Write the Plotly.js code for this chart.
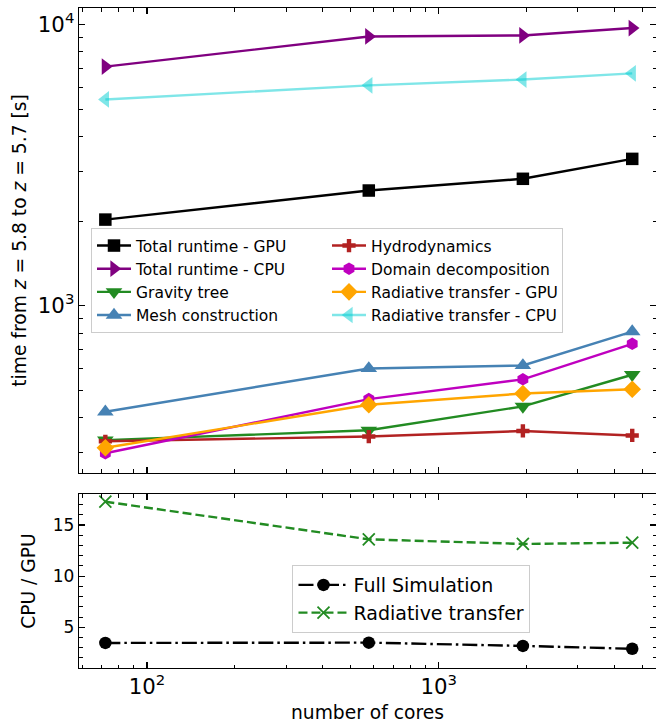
<!DOCTYPE html>
<html><head><meta charset="utf-8">
<script src="https://cdn.plot.ly/plotly-3.0.1.min.js"></script>
<style>html,body{margin:0;padding:0;background:#fff;} #chart{width:656px;height:723px;}</style>
</head><body><div id="chart"></div>
<script>
// ---- data ----
const cores = [72, 576, 1944, 4608];
const totalGPU = [2027, 2572, 2831, 3333];
const totalCPU = [7096, 9083, 9158, 9729];
const gravityTree = [333, 361, 439, 569];
const meshConstruction = [420, 599, 614, 810];
const hydrodynamics = [330, 343, 359, 346];
const domainDecomposition = [299, 466, 548, 733];
const radGPU = [313, 445, 488, 505];
const radCPU = [5420, 6085, 6383, 6713];
const ratioFull = [3.47, 3.5, 3.18, 2.9];
const ratioRT = [17.28, 13.6, 13.15, 13.27];

const names = ['Total runtime - GPU','Total runtime - CPU','Gravity tree','Mesh construction',
  'Hydrodynamics','Domain decomposition','Radiative transfer - GPU','Radiative transfer - CPU'];
const series = [totalGPU, totalCPU, gravityTree, meshConstruction, hydrodynamics, domainDecomposition, radGPU, radCPU];
const colors = ['#000000','#800080','#228B22','#4682B4','#B22222','#BF00BF','#FFA500','rgba(0,206,209,0.5)'];
const symbols = ['square','triangle-right','triangle-down','triangle-up','cross','hexagon','diamond','triangle-left'];
const sizes = [12.5,14.5,14.5,14.5,11,12.5,13.5,14.5];
const ranks = [1,3,5,7,2,4,6,8];

const FONT = 'DejaVu Sans, sans-serif';
const traces = series.map((s,i)=>({
  x: cores, y: s, name: names[i], type:'scatter', mode:'lines+markers',
  xaxis:'x', yaxis:'y', legend:'legend', legendrank: ranks[i],
  line:{color: colors[i], width:2.4},
  marker:{symbol: symbols[i], size: sizes[i], color: colors[i], line:{width:0}}
}));
traces.push({x: cores, y: ratioFull, name:'Full Simulation', type:'scatter', mode:'lines+markers',
  xaxis:'x2', yaxis:'y2', legend:'legend2',
  line:{color:'#000000', width:2.4, dash:'15px,4px,2.5px,4px'},
  marker:{symbol:'circle', size:12.5, color:'#000000'}});
traces.push({x: cores, y: ratioRT, name:'Radiative transfer', type:'scatter', mode:'lines+markers',
  xaxis:'x2', yaxis:'y2', legend:'legend2',
  line:{color:'#228B22', width:2.4, dash:'9px,4px'},
  marker:{symbol:'x-thin', size:12, color:'#228B22', line:{color:'#228B22', width:1.8}}});

const axCommon = {showline:true, linecolor:'#000', linewidth:1.25, mirror:'allticks',
  ticks:'inside', ticklen:6, tickwidth:1.25, tickcolor:'#000', showgrid:false, zeroline:false,
  tickfont:{family:FONT, size:17, color:'#000'}};
const logMinor = {ticks:'inside', ticklen:3.5, tickwidth:1, tickcolor:'#000', dtick:'D1', showgrid:false};

const layout = {
  width:656, height:723, paper_bgcolor:'#fff', plot_bgcolor:'#fff',
  margin:{l:79, r:0, t:8, b:55},
  font:{family:FONT, color:'#000'},
  xaxis: Object.assign({}, axCommon, {type:'log', range:[1.767,3.745], dtick:1, anchor:'y',
    showticklabels:false, matches:'x2', minor: logMinor}),
  xaxis2: Object.assign({}, axCommon, {type:'log', range:[1.767,3.745], dtick:1, anchor:'y2',
    exponentformat:'power', minor: logMinor,
    title:{text:'number of cores', font:{family:FONT, size:18.7, color:'#000'}, standoff:8}}),
  yaxis: Object.assign({}, axCommon, {type:'log', domain:[0.2955,1], range:[2.4057,4.0594], dtick:1,
    exponentformat:'power', anchor:'x', minor: logMinor,
    title:{text:'time from <i>z</i> = 5.8 to <i>z</i> = 5.7 [s]', font:{family:FONT, size:18.7, color:'#000'}, standoff:6}}),
  yaxis2: Object.assign({}, axCommon, {domain:[0,0.2636], range:[1.02,18.03], tick0:0, dtick:5, anchor:'x2',
    minor:{ticks:'inside', ticklen:3.5, tickwidth:1, tickcolor:'#000', dtick:1, showgrid:false},
    title:{text:'CPU / GPU', font:{family:FONT, size:18.7, color:'#000'}, standoff:12}}),
  legend:{x:0.0208, y:0.6667, xanchor:'left', yanchor:'top', orientation:'h',
    itemwidth:34, entrywidth:186, entrywidthmode:'pixels', traceorder:'normal',
    font:{family:FONT, size:15.5, color:'#000'}, bgcolor:'rgba(255,255,255,0.8)',
    bordercolor:'#cccccc', borderwidth:1},
  legend2:{x:0.370, y:0.1560, xanchor:'left', yanchor:'top', orientation:'v', itemwidth:50,
    font:{family:FONT, size:19, color:'#000'}, bgcolor:'rgba(255,255,255,0.8)',
    bordercolor:'#cccccc', borderwidth:1},
  showlegend:true
};

Plotly.newPlot('chart', traces, layout, {displayModeBar:false, staticPlot:true});
</script>
</body></html>
